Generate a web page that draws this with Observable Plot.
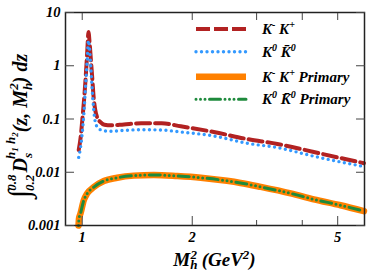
<!DOCTYPE html>
<html><head><meta charset="utf-8">
<script src="https://cdn.jsdelivr.net/npm/d3@7"></script>
<script src="https://cdn.jsdelivr.net/npm/@observablehq/plot@0.6"></script>
<style>body{margin:0;background:#fff}</style>
</head><body><div id="chart"></div>
<script>
// Resonance region mass grid (M_h^2 in GeV^2)
const mass = [0.978, 0.99, 1.0, 1.01, 1.021, 1.032, 1.04, 1.048, 1.056, 1.065, 1.075, 1.085, 1.1, 1.12, 1.15, 1.2, 1.3, 1.45, 1.65, 1.86, 2.29, 2.83, 3.42, 4.3, 5.0, 5.9];
const kkCharged = [0.026, 0.045, 0.093, 0.2, 0.55, 1.8, 4.3, 2.6, 1.3, 0.6, 0.25, 0.15, 0.105, 0.088, 0.078, 0.076, 0.079, 0.083, 0.083, 0.073, 0.057, 0.042, 0.034, 0.024, 0.019, 0.0148];
const kkNeutral = [0.019, 0.03, 0.054, 0.12, 0.4, 1.3, 3.0, 2.0, 0.9, 0.35, 0.15, 0.09, 0.07, 0.063, 0.06, 0.059, 0.061, 0.063, 0.062, 0.057, 0.048, 0.035, 0.029, 0.020, 0.016, 0.0128];
// Primary (non-resonant) curves
const massPrimary = [0.977, 0.98, 0.989, 1.01, 1.032, 1.076, 1.146, 1.247, 1.384, 1.57, 1.82, 2.11, 2.49, 2.71, 3.08, 3.72, 4.3, 5.09, 5.9];
const primaryCharged = [0.001, 0.00135, 0.00167, 0.00297, 0.0040, 0.00527, 0.00684, 0.0079, 0.00864, 0.0089, 0.0085, 0.0079, 0.0069, 0.0063, 0.0053, 0.0040, 0.0031, 0.0024, 0.00186];
const primaryNeutral = [0.001, 0.00135, 0.00167, 0.00297, 0.0040, 0.00527, 0.00684, 0.0079, 0.00864, 0.0089, 0.0085, 0.0079, 0.0069, 0.0063, 0.0053, 0.0040, 0.0031, 0.0024, 0.00186];

const yTicks = [0.001, 0.01, 0.1, 1, 10];
const yTickLabels = ["0.001", "0.01", "0.1", "1", "10"];
const xMajor = [1, 2, 5];
const xMinor = [3, 4];
const xTop = [1, 2, 3, 4, 5];
const xTickLabels = ["1", "2", "5"];

const toRows = (xs, ys) => xs.map((x, i) => ({x, y: ys[i]}));
const font = "'Liberation Serif', serif";

const plot = Plot.plot({
  width: 374, height: 280,
  marginLeft: 65, marginRight: 10, marginTop: 12, marginBottom: 55,
  style: {fontFamily: font, fontWeight: "bold", fontStyle: "italic", fontSize: "14.5px", background: "white", color: "black", overflow: "visible"},
  x: {type: "log", domain: [0.9, 5.92]},
  y: {type: "log", domain: [0.001, 10]},
  marks: [
    Plot.line(toRows(massPrimary, primaryCharged), {x: "x", y: "y", stroke: "#ff8000", strokeWidth: 6.5, curve: "monotone-x"}),
    Plot.line(toRows(massPrimary, primaryNeutral), {x: "x", y: "y", stroke: "#1e8a3c", strokeWidth: 3, strokeDasharray: "0,4.5,0,4.5,0,4.5,11,4.5", strokeLinecap: "round", curve: "monotone-x"}),
    Plot.line(toRows(mass, kkCharged), {x: "x", y: "y", stroke: "#b22222", strokeWidth: 4, strokeDasharray: "14,5", curve: "monotone-x"}),
    Plot.line(toRows(mass, kkNeutral), {x: "x", y: "y", stroke: "#3399ff", strokeWidth: 3.4, strokeDasharray: "0,5.5", strokeLinecap: "round", curve: "monotone-x"}),
    Plot.frame({stroke: "#222", strokeWidth: 1.5}),
    Plot.axisY({ticks: yTicks, tickSize: -9, fill: "none", stroke: "#444", label: null}),
    Plot.axisY({anchor: "right", ticks: yTicks, tickSize: -9, fill: "none", stroke: "#444", label: null}),
    Plot.axisY({ticks: yTicks, tickSize: 0, tickPadding: 5, tickFormat: (d) => yTickLabels[yTicks.indexOf(d)], label: null}),
    Plot.axisX({ticks: xMajor, tickSize: -9, fill: "none", stroke: "#444", label: null}),
    Plot.axisX({ticks: xMinor, tickSize: -5, fill: "none", stroke: "#444", label: null}),
    Plot.axisX({anchor: "top", ticks: xTop, tickSize: -7, fill: "none", stroke: "#444", label: null}),
    Plot.axisX({ticks: xMajor, tickSize: 0, tickPadding: 6, tickFormat: d => xTickLabels[xMajor.indexOf(d)], label: null})
  ]
});
document.getElementById("chart").appendChild(plot);

const svg = d3.select(plot);
const txt = (sel) => sel.style("font-family", font).style("font-weight", "bold").style("font-style", "italic").attr("fill", "black");

// y-axis title
const yl = svg.append("text").call(txt).attr("transform", "translate(27,126) rotate(-90)").attr("text-anchor", "middle");
[
  ["\u222B", 30, 0, 2], ["0.2", 13, -1, 5], ["0.8", 13, -16, -18], ["D", 20, 2, 11],
  ["s", 13, 0, 5], ["h", 13, -6, -17], ["1", 9, 0, 3], [" h", 13, 0, -3], ["2", 9, 0, 3],
  ["(z, M", 20, 0, 9], ["h", 13, 0, 5], ["2", 13, -7, -14], [") dz", 20, 0, 9]
].forEach(([t, fs, dx, dy]) => yl.append("tspan").style("font-size", fs + "px").attr("dx", dx).attr("dy", dy).text(t));

// x-axis title
const xl = svg.append("text").call(txt).attr("x", 214.5).attr("y", 266).attr("text-anchor", "middle");
[
  ["M", 19, 0, 0], ["h", 13, 0, 3], ["2", 13, -7, -10], [" (GeV", 19, 0, 7], ["2", 13, 0, -7], [")", 19, 0, 7]
].forEach(([t, fs, dx, dy]) => xl.append("tspan").style("font-size", fs + "px").attr("dx", dx).attr("dy", dy).text(t));

// legend
const legendItems = [
  {parts: [["K", 0], ["-", -6], [" K", 6], ["+", -6]], stroke: "#b22222", w: 4, dash: "14,4", cap: "butt"},
  {parts: [["K", 0], ["0", -6], [" K\u0304", 6], ["0", -6]], stroke: "#3399ff", w: 3.4, dash: "0,5.5", cap: "round"},
  {parts: [["K", 0], ["-", -6], [" K", 6], ["+", -6], [" Primary", 6]], stroke: "#ff8000", w: 6.5, dash: null, cap: "butt"},
  {parts: [["K", 0], ["0", -6], [" K\u0304", 6], ["0", -6], [" Primary", 6]], stroke: "#1e8a3c", w: 3, dash: "0,4.5,0,4.5,0,4.5,11,4.5", cap: "round"}
];
const legendRows = [29, 51.7, 76.7, 99.3];
legendItems.forEach((item, i) => {
  const y = legendRows[i];
  svg.append("line").attr("x1", 196).attr("x2", 246).attr("y1", y).attr("y2", y)
    .attr("stroke", item.stroke).attr("stroke-width", item.w).attr("stroke-dasharray", item.dash).attr("stroke-linecap", item.cap);
  const t = svg.append("text").call(txt).attr("x", 262).attr("y", y + 5).attr("text-anchor", "start");
  item.parts.forEach(([s, dy]) => t.append("tspan").style("font-size", (dy < 0 ? 10 : 15) + "px").attr("dy", dy).text(s));
});
</script>
</body></html>
